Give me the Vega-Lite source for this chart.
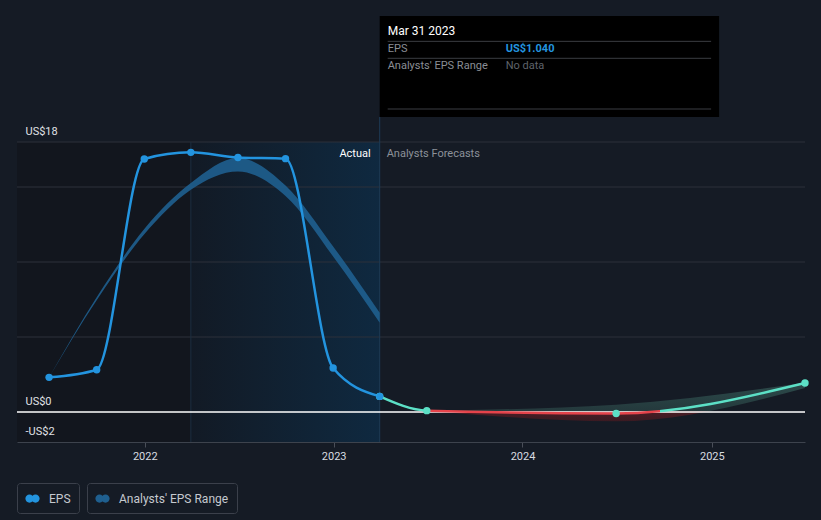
{
  "$schema": "https://vega.github.io/schema/vega-lite/v6.json",
  "width": 788,
  "height": 300,
  "autosize": {"type": "none"},
  "padding": {"left": 17, "top": 142, "right": 16, "bottom": 78},
  "background": "#151b25",
  "config": {"view": {"stroke": null, "fill": "#151b25"}, "font": "Roboto"},
  "datasets": {
    "actual": [
      {"date": "2021-06-30", "eps": 2.31},
      {"date": "2021-09-30", "eps": 2.82},
      {"date": "2021-12-31", "eps": 16.87},
      {"date": "2022-03-31", "eps": 17.31},
      {"date": "2022-06-30", "eps": 16.97},
      {"date": "2022-09-30", "eps": 16.89},
      {"date": "2022-12-31", "eps": 2.93},
      {"date": "2023-03-31", "eps": 1.04}
    ],
    "forecast": [
      {"date": "2023-03-31", "eps": 1.04},
      {"date": "2023-06-30", "eps": 0.09},
      {"date": "2024-06-30", "eps": -0.1},
      {"date": "2025-06-30", "eps": 1.93}
    ],
    "pastband": [
      {"date": "2021-06-30", "lo": 2.31, "hi": 2.31},
      {"date": "2021-09-30", "lo": 7.45, "hi": 7.65},
      {"date": "2021-12-31", "lo": 11.85, "hi": 12.2},
      {"date": "2022-03-31", "lo": 14.82, "hi": 15.26},
      {"date": "2022-06-30", "lo": 16.04, "hi": 16.93},
      {"date": "2022-09-30", "lo": 14.4, "hi": 15.1},
      {"date": "2022-12-31", "lo": 10.37, "hi": 11.04},
      {"date": "2023-03-31", "lo": 5.95, "hi": 6.62}
    ],
    "foreband": [
      {"date": "2023-06-30", "lo": 0.09, "hi": 0.09},
      {"date": "2024-06-30", "lo": -0.62, "hi": 0.49},
      {"date": "2025-06-30", "lo": 1.6, "hi": 1.95}
    ],
    "grid": [{"g": 5}, {"g": 10}, {"g": 15}, {"g": 18}]
  },
  "data": {"values": [{}]},
  "layer": [
    {
      "mark": {"type": "rect", "fill": "#12161e"},
      "encoding": {
        "x": {
          "datum": {"year": 2021, "month": "apr", "date": 29},
          "type": "temporal",
          "scale": {"domain": [{"year": 2021, "month": "apr", "date": 29}, {"year": 2025, "month": "jun", "date": 30}]},
          "axis": {
            "title": null,
            "format": "%Y",
            "values": [
              {"year": 2022, "month": "jan", "date": 1},
              {"year": 2023, "month": "jan", "date": 1},
              {"year": 2024, "month": "jan", "date": 1},
              {"year": 2025, "month": "jan", "date": 1}
            ],
            "grid": false,
            "tickSize": 5,
            "tickColor": "#4a4f59",
            "domainColor": "#3d434d",
            "labelColor": "#d8dbe0",
            "labelFontSize": 11,
            "labelPadding": 3
          }
        },
        "x2": {"datum": {"year": 2022, "month": "mar", "date": 31}}
      }
    },
    {
      "mark": {
        "type": "rect",
        "fill": {
          "gradient": "linear", "x1": 0, "x2": 1, "y1": 0, "y2": 0,
          "stops": [{"offset": 0, "color": "#121a25"}, {"offset": 1, "color": "#0f2940"}]
        }
      },
      "encoding": {
        "x": {"datum": {"year": 2022, "month": "mar", "date": 31}, "type": "temporal"},
        "x2": {"datum": {"year": 2023, "month": "mar", "date": 31}}
      }
    },
    {
      "data": {"name": "grid"},
      "mark": {"type": "rule", "color": "#2c313b", "strokeWidth": 1},
      "encoding": {
        "y": {
          "field": "g",
          "type": "quantitative",
          "scale": {"domain": [-2, 18], "nice": false, "zero": false},
          "axis": {
            "title": null,
            "values": [-2, 0, 18],
            "labelExpr": "datum.value == 18 ? 'US$18' : datum.value == 0 ? 'US$0' : '-US$2'",
            "grid": false,
            "domain": false,
            "ticks": false,
            "tickSize": 0,
            "labelAlign": "left",
            "labelPadding": -8,
            "labelBaseline": "alphabetic",
            "labelOffset": -8,
            "labelColor": "#e0e2e6",
            "labelFontSize": 11,
            "zindex": 1
          }
        }
      }
    },
    {
      "mark": {"type": "rule", "color": "#1c2e40", "strokeWidth": 1},
      "encoding": {"x": {"datum": {"year": 2022, "month": "mar", "date": 31}, "type": "temporal"}}
    },
    {
      "mark": {"type": "rule", "color": "#1d3a55", "strokeWidth": 1},
      "encoding": {
        "x": {"datum": {"year": 2023, "month": "mar", "date": 31}, "type": "temporal"},
        "y": {"datum": 19.67, "type": "quantitative"},
        "y2": {"datum": -2}
      }
    },
    {
      "data": {"name": "pastband"},
      "mark": {"type": "area", "interpolate": "monotone", "opacity": 0.9},
      "encoding": {
        "x": {"field": "date", "type": "temporal"},
        "y": {"field": "lo", "type": "quantitative"},
        "y2": {"field": "hi"},
        "fill": {
          "datum": "Analysts' EPS Range",
          "type": "nominal",
          "scale": {"range": ["#1f5f8f"]},
          "legend": {
            "title": null, "orient": "none", "legendX": 70, "legendY": 341,
            "strokeColor": "#3b404b", "padding": 8, "cornerRadius": 3,
            "symbolType": "M-0.95,0A0.55,0.55 0 1,0 0.15,0A0.55,0.55 0 1,0 -0.95,0ZM-0.15,0A0.55,0.55 0 1,0 0.95,0A0.55,0.55 0 1,0 -0.15,0Z",
            "symbolSize": 225, "symbolStrokeWidth": 0, "symbolOpacity": 1,
            "labelOffset": 9,
            "labelColor": "#c5c9cf", "labelFontSize": 12, "labelFont": "Roboto"
          }
        }
      }
    },
    {
      "data": {"name": "foreband"},
      "mark": {
        "type": "area",
        "interpolate": "monotone",
        "fill": {
          "gradient": "linear", "x1": 0, "x2": 0, "y1": 0, "y2": 1,
          "stops": [
            {"offset": 0, "color": "#2c4a4a"},
            {"offset": 0.74, "color": "#24393c"},
            {"offset": 0.74, "color": "#4a1d25"},
            {"offset": 1, "color": "#3a1a22"}
          ]
        }
      },
      "encoding": {
        "x": {"field": "date", "type": "temporal"},
        "y": {"field": "lo", "type": "quantitative"},
        "y2": {"field": "hi"}
      }
    },
    {
      "mark": {"type": "rule", "color": "#ffffff", "strokeWidth": 1.5},
      "encoding": {"y": {"datum": 0, "type": "quantitative"}}
    },
    {
      "data": {"name": "actual"},
      "mark": {"type": "line", "interpolate": "monotone", "color": "#2394df", "strokeWidth": 2.5},
      "encoding": {
        "x": {"field": "date", "type": "temporal"},
        "y": {"field": "eps", "type": "quantitative"}
      }
    },
    {
      "data": {"name": "forecast"},
      "mark": {
        "type": "line",
        "interpolate": "monotone",
        "strokeWidth": 2.5,
        "stroke": {
          "gradient": "linear", "x1": 0, "x2": 1, "y1": 0, "y2": 0,
          "stops": [
            {"offset": 0, "color": "#5ce0c6"},
            {"offset": 0.11, "color": "#5ce0c6"},
            {"offset": 0.11, "color": "#e5434b"},
            {"offset": 0.66, "color": "#e5434b"},
            {"offset": 0.66, "color": "#5ce0c6"},
            {"offset": 1, "color": "#5ce0c6"}
          ]
        }
      },
      "encoding": {
        "x": {"field": "date", "type": "temporal"},
        "y": {"field": "eps", "type": "quantitative"}
      }
    },
    {
      "data": {"name": "forecast"},
      "transform": [{"filter": "datum.date != '2023-03-31'"}],
      "mark": {"type": "point", "filled": true, "size": 55, "color": "#5ce0c6", "opacity": 1},
      "encoding": {
        "x": {"field": "date", "type": "temporal"},
        "y": {"field": "eps", "type": "quantitative"}
      }
    },
    {
      "data": {"name": "actual"},
      "transform": [{"filter": "datum.date != '2023-03-31'"}],
      "mark": {"type": "point", "filled": true, "size": 55, "opacity": 1},
      "encoding": {
        "x": {"field": "date", "type": "temporal"},
        "y": {"field": "eps", "type": "quantitative"},
        "color": {
          "datum": "EPS",
          "type": "nominal",
          "scale": {"range": ["#2394df"]},
          "legend": {
            "title": null, "orient": "none", "legendX": 0, "legendY": 341,
            "strokeColor": "#3b404b", "padding": 8, "cornerRadius": 3,
            "symbolType": "M-0.95,0A0.55,0.55 0 1,0 0.15,0A0.55,0.55 0 1,0 -0.95,0ZM-0.15,0A0.55,0.55 0 1,0 0.95,0A0.55,0.55 0 1,0 -0.15,0Z",
            "symbolSize": 225, "symbolStrokeWidth": 0, "symbolOpacity": 1,
            "labelOffset": 9,
            "labelColor": "#c5c9cf", "labelFontSize": 12, "labelFont": "Roboto"
          }
        }
      }
    },
    {
      "data": {"name": "actual"},
      "transform": [{"filter": "datum.date == '2023-03-31'"}],
      "mark": {"type": "point", "filled": true, "size": 85, "fill": "#2394df", "stroke": "#ffffff", "strokeWidth": 1.5, "opacity": 1},
      "encoding": {
        "x": {"field": "date", "type": "temporal"},
        "y": {"field": "eps", "type": "quantitative"}
      }
    },
    {
      "mark": {"type": "text", "align": "right", "baseline": "middle", "dx": -9, "fontSize": 11, "color": "#ffffff"},
      "encoding": {
        "x": {"datum": {"year": 2023, "month": "mar", "date": 31}, "type": "temporal"},
        "y": {"datum": 17.2, "type": "quantitative"},
        "text": {"value": "Actual"}
      }
    },
    {
      "mark": {"type": "text", "align": "left", "baseline": "middle", "dx": 7, "fontSize": 11, "color": "#8c9199"},
      "encoding": {
        "x": {"datum": {"year": 2023, "month": "mar", "date": 31}, "type": "temporal"},
        "y": {"datum": 17.2, "type": "quantitative"},
        "text": {"value": "Analysts Forecasts"}
      }
    },
    {
      "mark": {"type": "rect", "fill": "#000000"},
      "encoding": {
        "x": {"datum": {"year": 2023, "month": "mar", "date": 31}, "type": "temporal"},
        "x2": {"datum": {"year": 2025, "month": "jan", "date": 15}},
        "y": {"datum": 26.4, "type": "quantitative"},
        "y2": {"datum": 19.67}
      }
    },
    {
      "data": {"values": [{"v": 24.71}, {"v": 23.58}, {"v": 20.2}]},
      "mark": {"type": "rule", "color": "#3a3d42", "strokeWidth": 1, "xOffset": 8, "x2Offset": -8},
      "encoding": {
        "x": {"datum": {"year": 2023, "month": "mar", "date": 31}, "type": "temporal"},
        "x2": {"datum": {"year": 2025, "month": "jan", "date": 15}},
        "y": {"field": "v", "type": "quantitative"}
      }
    },
    {
      "mark": {"type": "text", "align": "left", "baseline": "middle", "dx": 8, "fontSize": 12, "color": "#ffffff"},
      "encoding": {
        "x": {"datum": {"year": 2023, "month": "mar", "date": 31}, "type": "temporal"},
        "y": {"datum": 25.4, "type": "quantitative"},
        "text": {"value": "Mar 31 2023"}
      }
    },
    {
      "mark": {"type": "text", "align": "left", "baseline": "middle", "dx": 8, "fontSize": 11, "color": "#8a8e95"},
      "encoding": {
        "x": {"datum": {"year": 2023, "month": "mar", "date": 31}, "type": "temporal"},
        "y": {"datum": 24.2, "type": "quantitative"},
        "text": {"value": "EPS"}
      }
    },
    {
      "mark": {"type": "text", "align": "left", "baseline": "middle", "dx": 126, "fontSize": 11, "fontWeight": "bold", "color": "#2394df"},
      "encoding": {
        "x": {"datum": {"year": 2023, "month": "mar", "date": 31}, "type": "temporal"},
        "y": {"datum": 24.2, "type": "quantitative"},
        "text": {"value": "US$1.040"}
      }
    },
    {
      "mark": {"type": "text", "align": "left", "baseline": "middle", "dx": 8, "fontSize": 11, "color": "#8a8e95"},
      "encoding": {
        "x": {"datum": {"year": 2023, "month": "mar", "date": 31}, "type": "temporal"},
        "y": {"datum": 23.07, "type": "quantitative"},
        "text": {"value": "Analysts' EPS Range"}
      }
    },
    {
      "mark": {"type": "text", "align": "left", "baseline": "middle", "dx": 126, "fontSize": 11, "color": "#5f636a"},
      "encoding": {
        "x": {"datum": {"year": 2023, "month": "mar", "date": 31}, "type": "temporal"},
        "y": {"datum": 23.07, "type": "quantitative"},
        "text": {"value": "No data"}
      }
    }
  ]
}
